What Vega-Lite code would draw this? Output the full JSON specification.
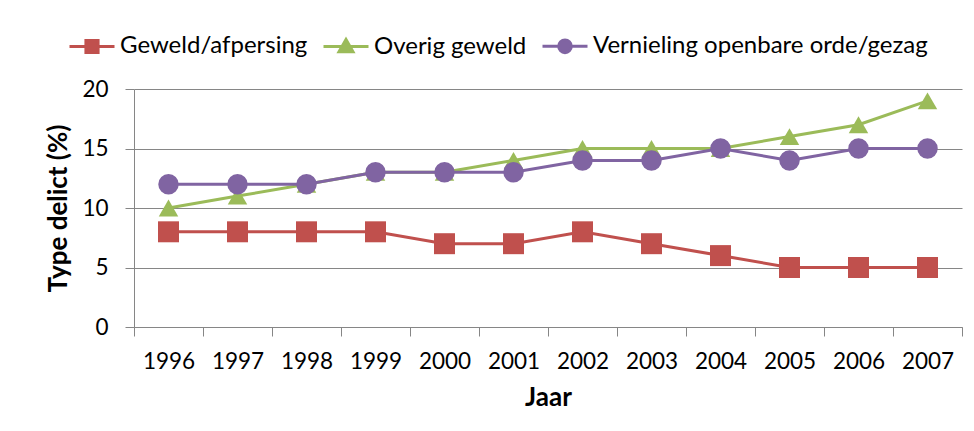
{
  "$schema": "https://vega.github.io/schema/vega-lite/v6.json",
  "autosize": "none",
  "width": 828,
  "height": 238,
  "padding": {"left": 134, "top": 89, "right": 12, "bottom": 104},
  "background": "white",
  "config": {
    "font": "Lato",
    "view": {"stroke": null},
    "axis": {
      "labelFont": "Lato",
      "labelFontSize": 22.5,
      "labelColor": "#000000",
      "titleFont": "Lato",
      "titleFontSize": 26,
      "titleFontWeight": "bold",
      "titleColor": "#000000",
      "domainColor": "#868686",
      "tickColor": "#868686",
      "gridColor": "#868686",
      "domainWidth": 1,
      "tickWidth": 1,
      "gridWidth": 1,
      "tickSize": 9
    },
    "legend": {
      "labelFont": "Lato",
      "labelFontSize": 24,
      "labelColor": "#000000",
      "labelLimit": 0
    }
  },
  "data": {
    "values": [
      {"year": "1996", "series": "Geweld/afpersing", "value": 8},
      {"year": "1997", "series": "Geweld/afpersing", "value": 8},
      {"year": "1998", "series": "Geweld/afpersing", "value": 8},
      {"year": "1999", "series": "Geweld/afpersing", "value": 8},
      {"year": "2000", "series": "Geweld/afpersing", "value": 7},
      {"year": "2001", "series": "Geweld/afpersing", "value": 7},
      {"year": "2002", "series": "Geweld/afpersing", "value": 8},
      {"year": "2003", "series": "Geweld/afpersing", "value": 7},
      {"year": "2004", "series": "Geweld/afpersing", "value": 6},
      {"year": "2005", "series": "Geweld/afpersing", "value": 5},
      {"year": "2006", "series": "Geweld/afpersing", "value": 5},
      {"year": "2007", "series": "Geweld/afpersing", "value": 5},
      {"year": "1996", "series": "Overig geweld", "value": 10},
      {"year": "1997", "series": "Overig geweld", "value": 11},
      {"year": "1998", "series": "Overig geweld", "value": 12},
      {"year": "1999", "series": "Overig geweld", "value": 13},
      {"year": "2000", "series": "Overig geweld", "value": 13},
      {"year": "2001", "series": "Overig geweld", "value": 14},
      {"year": "2002", "series": "Overig geweld", "value": 15},
      {"year": "2003", "series": "Overig geweld", "value": 15},
      {"year": "2004", "series": "Overig geweld", "value": 15},
      {"year": "2005", "series": "Overig geweld", "value": 16},
      {"year": "2006", "series": "Overig geweld", "value": 17},
      {"year": "2007", "series": "Overig geweld", "value": 19},
      {"year": "1996", "series": "Vernieling openbare orde/gezag", "value": 12},
      {"year": "1997", "series": "Vernieling openbare orde/gezag", "value": 12},
      {"year": "1998", "series": "Vernieling openbare orde/gezag", "value": 12},
      {"year": "1999", "series": "Vernieling openbare orde/gezag", "value": 13},
      {"year": "2000", "series": "Vernieling openbare orde/gezag", "value": 13},
      {"year": "2001", "series": "Vernieling openbare orde/gezag", "value": 13},
      {"year": "2002", "series": "Vernieling openbare orde/gezag", "value": 14},
      {"year": "2003", "series": "Vernieling openbare orde/gezag", "value": 14},
      {"year": "2004", "series": "Vernieling openbare orde/gezag", "value": 15},
      {"year": "2005", "series": "Vernieling openbare orde/gezag", "value": 14},
      {"year": "2006", "series": "Vernieling openbare orde/gezag", "value": 15},
      {"year": "2007", "series": "Vernieling openbare orde/gezag", "value": 15}
    ]
  },
  "encoding": {
    "x": {
      "field": "year",
      "type": "ordinal",
      "scale": {"type": "band", "paddingInner": 0, "paddingOuter": 0},
      "axis": {
        "title": "Jaar",
        "labelAngle": 0,
        "tickBand": "extent",
        "labelPadding": 14,
        "titlePadding": 12,
        "grid": false
      }
    },
    "y": {
      "field": "value",
      "type": "quantitative",
      "scale": {"domain": [0, 20], "nice": false},
      "axis": {
        "title": "Type delict (%)",
        "values": [0, 5, 10, 15, 20],
        "grid": true,
        "labelPadding": 17,
        "titlePadding": 10
      }
    },
    "color": {
      "field": "series",
      "type": "nominal",
      "scale": {
        "domain": ["Geweld/afpersing", "Overig geweld", "Vernieling openbare orde/gezag"],
        "range": ["#C0504D", "#9BBB59", "#8064A2"]
      },
      "legend": {
        "title": null,
        "orient": "none",
        "direction": "horizontal",
        "legendX": -66,
        "legendY": -67,
        "symbolSize": 2025,
        "symbolStrokeWidth": 3,
        "labelOffset": 4,
        "columnPadding": 9,
        "encode": {
          "symbols": {
            "update": {
              "shape": {"signal": "datum.value === 'Geweld/afpersing' ? 'M-1,0H1M-0.27,-0.27H0.27V0.27H-0.27Z' : datum.value === 'Overig geweld' ? 'M-1,0H1M0,-0.31L0.31,0.23H-0.31Z' : 'M-1,0H1M0.28,0A0.28,0.28 0 1,1 -0.28,0A0.28,0.28 0 1,1 0.28,0Z'"},
              "fill": {"signal": "scale('color', datum.value)"},
              "stroke": {"signal": "scale('color', datum.value)"},
              "strokeWidth": {"value": 3},
              "opacity": {"value": 1}
            }
          }
        }
      }
    }
  },
  "layer": [
    {
      "mark": {"type": "line", "strokeWidth": 3}
    },
    {
      "transform": [{"filter": "datum.series === 'Geweld/afpersing'"}],
      "mark": {"type": "point", "filled": true, "opacity": 1, "shape": "square", "size": 440}
    },
    {
      "transform": [{"filter": "datum.series === 'Overig geweld'"}],
      "mark": {"type": "point", "filled": true, "opacity": 1, "shape": "triangle-up", "size": 380}
    },
    {
      "transform": [{"filter": "datum.series === 'Vernieling openbare orde/gezag'"}],
      "mark": {"type": "point", "filled": true, "opacity": 1, "shape": "circle", "size": 420}
    }
  ]
}
